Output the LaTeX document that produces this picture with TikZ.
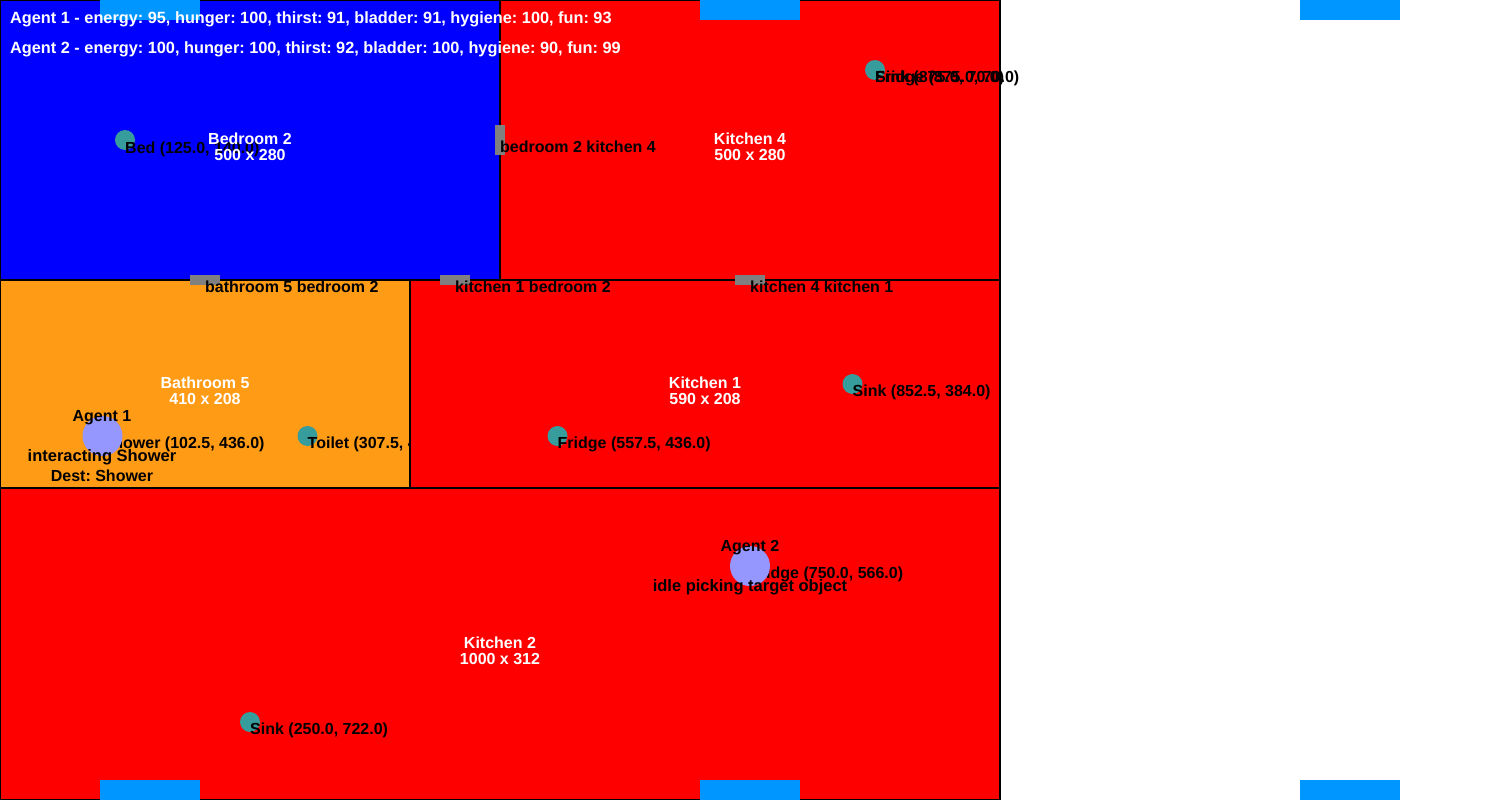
\documentclass[tikz,border=0pt]{standalone}
\usepackage{fontspec}
\setmainfont{Liberation Sans}
\frenchspacing
\definecolor{roomorange}{RGB}{255,155,20}
\definecolor{windowblue}{RGB}{0,150,255}
\definecolor{objteal}{RGB}{54,156,156}
\definecolor{agentblue}{RGB}{150,150,255}
\begin{document}
\begin{tikzpicture}[x=1pt,y=-1pt]
    \tikzstyle{every node}+=[inner sep=0pt,font=\fontsize{16}{16}\selectfont\bfseries]
    \tikzstyle{room}=[draw=black,line width=2pt]
    \tikzstyle{roomtext}=[white,align=center]
    \tikzstyle{objtext}=[black,anchor=base west]
    \tikzstyle{agenttext}=[black,anchor=base]
    \tikzstyle{statetext}=[black,anchor=base,font=\fontsize{16.5}{16}\selectfont\bfseries]
    \tikzstyle{statustext}=[white,anchor=base west,font=\fontsize{16.3}{16}\selectfont\bfseries]
    \useasboundingbox (0,0) rectangle (1500,800);
    % bedroom 2
    \fill [blue] (0,0) rectangle (500,280);
    \draw [room] (0,0) rectangle (500,280);
    \fill [objteal] (125,140) circle (10);
    \draw (125,153) node (bedtext) [objtext] {Bed (125.0, 140.0)};
    \draw (250,146.8) node (bedroomtext) [roomtext] {Bedroom 2\\500 x 280};
    % kitchen 4
    \fill [red] (500,0) rectangle (1000,280);
    \draw [room] (500,0) rectangle (1000,280);
    \fill [objteal] (875,70) circle (10);
    \draw (875,83) node (sinkfourtext) [objtext] {Sink (875.0, 70.0)};
    \draw (875,83) node (fridgefourtext) [objtext] {Fridge (875.0, 70.0)};
    \draw (750,146.8) node (kitchenfourtext) [roomtext] {Kitchen 4\\500 x 280};
    % bathroom 5
    \fill [roomorange] (0,280) rectangle (410,488);
    \draw [room] (0,280) rectangle (410,488);
    \fill [objteal] (102.5,436) circle (10);
    \draw (102.5,448) node (showertext) [objtext] {Shower (102.5, 436.0)};
    \fill [objteal] (307.5,436) circle (10);
    \draw (307.5,448) node (toilettext) [objtext] {Toilet (307.5, 436.0)};
    \draw (205,390.8) node (bathroomtext) [roomtext] {Bathroom 5\\410 x 208};
    % kitchen 1
    \fill [red] (410,280) rectangle (1000,488);
    \draw [room] (410,280) rectangle (1000,488);
    \fill [objteal] (557.5,436) circle (10);
    \draw (557.5,448) node (fridgeonetext) [objtext] {Fridge (557.5, 436.0)};
    \fill [objteal] (852.5,384) circle (10);
    \draw (852.5,396) node (sinkonetext) [objtext] {Sink (852.5, 384.0)};
    \draw (705,390.8) node (kitchenonetext) [roomtext] {Kitchen 1\\590 x 208};
    % kitchen 2
    \fill [red] (0,488) rectangle (1000,800);
    \draw [room] (0,488) rectangle (1000,800);
    \fill [objteal] (750,566) circle (10);
    \draw (750,578) node (fridgetwotext) [objtext] {Fridge (750.0, 566.0)};
    \fill [objteal] (250,722) circle (10);
    \draw (250,734) node (sinktwotext) [objtext] {Sink (250.0, 722.0)};
    \draw (500,651) node (kitchentwotext) [roomtext] {Kitchen 2\\1000 x 312};
    % doors
    \fill [gray] (190,275) rectangle (220,285);
    \draw (205,292) node (doorbathtext) [objtext] {bathroom 5 bedroom 2};
    \fill [gray] (440,275) rectangle (470,285);
    \draw (455,292) node (doorbedtext) [objtext] {kitchen 1 bedroom 2};
    \fill [gray] (735,275) rectangle (765,285);
    \draw (750,292) node (doorkitchentext) [objtext] {kitchen 4 kitchen 1};
    \fill [gray] (495,125) rectangle (505,155);
    \draw (500,152) node (doorkitchenfourtext) [objtext] {bedroom 2 kitchen 4};
    % windows
    \foreach \wx in {100,700,1300} {
        \fill [windowblue] (\wx,0) rectangle (\wx+100,20);
        \fill [windowblue] (\wx,780) rectangle (\wx+100,800);
    }
    % agents
    \fill [agentblue] (102.5,436) circle (20);
    \draw (102,421) node (agentonetext) [agenttext] {Agent 1};
    \draw (102,461.3) node (agentonestate) [statetext] {interacting Shower};
    \draw (102,481.3) node (agentonedest) [agenttext] {Dest: Shower};
    \fill [agentblue] (750,566) circle (20);
    \draw (750,551) node (agenttwotext) [agenttext] {Agent 2};
    \draw (750,591.3) node (agenttwostate) [statetext] {idle picking target object};
    % needs
    \draw (10,24) node (agentoneneeds) [statustext] {Agent 1 - energy: 95, hunger: 100, thirst: 91, bladder: 91, hygiene: 100, fun: 93};
    \draw (10,54) node (agenttwoneeds) [statustext] {Agent 2 - energy: 100, hunger: 100, thirst: 92, bladder: 100, hygiene: 90, fun: 99};
\end{tikzpicture}
\end{document}
